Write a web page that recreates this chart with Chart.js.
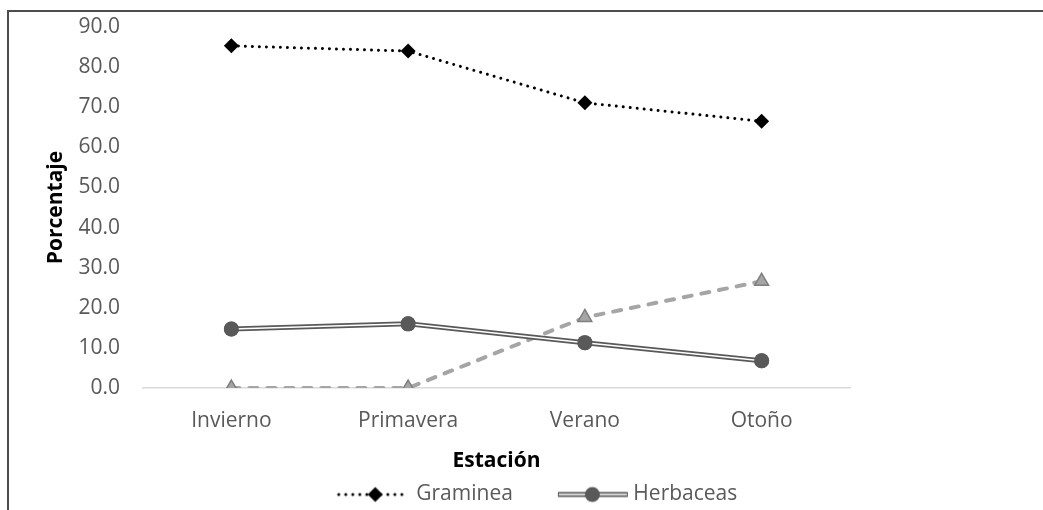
<!DOCTYPE html>
<html>
<head>
<meta charset="utf-8">
<script src="https://cdn.jsdelivr.net/npm/chart.js@4.4.1/dist/chart.umd.min.js"></script>
<style>
  html, body { margin: 0; padding: 0; background: #ffffff; overflow: hidden; }
  #frame { position: absolute; left: 7px; top: 10px; width: 1100px; height: 600px;
           border-top: 2px solid #4d4d4d; border-left: 2px solid #4d4d4d; box-sizing: border-box; }
  #wrap { position: absolute; left: 0; top: 0; width: 1043px; height: 510px; overflow: hidden; }
</style>
</head>
<body>
<div id="frame"></div>
<div id="wrap"><canvas id="c" width="1043" height="519"></canvas></div>
<script>
// Composición por estación (%)
const estaciones = ['Invierno', 'Primavera', 'Verano', 'Otoño'];
const graminea   = [85.3, 84.0, 71.1, 66.5];
const herbaceas  = [14.7, 16.0, 11.3, 6.8];
const arbustivas = [0.0, 0.0, 17.6, 26.6];
const yTickValues = [0, 10, 20, 30, 40, 50, 60, 70, 80, 90];

const FONT = "'Open Sans', 'Liberation Sans', sans-serif";
const TEXT_GRAY = '#595959';

// Small canvases used as legend symbols (line sample + marker)
function symbol(width, height, draw) {
  const c = document.createElement('canvas');
  c.width = width; c.height = height;
  draw(c.getContext('2d'), height / 2);
  return c;
}

const gramineaSymbol = symbol(100, 18, (ctx, cy) => {
  ctx.strokeStyle = '#000'; ctx.lineWidth = 3; ctx.lineCap = 'round';
  ctx.setLineDash([0.01, 7]);
  ctx.beginPath(); ctx.moveTo(33, cy); ctx.lineTo(99, cy); ctx.stroke();
  ctx.setLineDash([]);
  ctx.fillStyle = '#000';
  ctx.beginPath();
  ctx.moveTo(69.5, cy - 7.5); ctx.lineTo(77, cy); ctx.lineTo(69.5, cy + 7.5); ctx.lineTo(62, cy);
  ctx.closePath(); ctx.fill();
});

const herbaceasSymbol = symbol(112, 18, (ctx, cy) => {
  ctx.strokeStyle = '#595959'; ctx.lineWidth = 5;
  ctx.beginPath(); ctx.moveTo(41, cy); ctx.lineTo(111, cy); ctx.stroke();
  ctx.strokeStyle = '#ffffff'; ctx.lineWidth = 1.5;
  ctx.beginPath(); ctx.moveTo(42, cy); ctx.lineTo(110, cy); ctx.stroke();
  ctx.fillStyle = '#595959';
  ctx.beginPath(); ctx.arc(75.5, cy, 7.5, 0, Math.PI * 2); ctx.fill();
});

// Double line: white core stroked over the dark line, then markers redrawn on top
const doubleLinePlugin = {
  id: 'doubleLine',
  afterDatasetDraw(chart, args) {
    const ds = chart.data.datasets[args.index];
    if (!ds.doubleLine) return;
    const pts = args.meta.data;
    const ctx = chart.ctx;
    ctx.save();
    ctx.strokeStyle = '#ffffff';
    ctx.lineWidth = 1.5;
    ctx.beginPath();
    pts.forEach((p, i) => i ? ctx.lineTo(p.x, p.y) : ctx.moveTo(p.x, p.y));
    ctx.stroke();
    ctx.restore();
    pts.forEach(p => p.draw(ctx, chart.chartArea));
  }
};

new Chart(document.getElementById('c'), {
  type: 'line',
  data: {
    labels: estaciones,
    datasets: [
      {
        label: 'Graminea',
        data: graminea,
        borderColor: '#000000',
        borderWidth: 3,
        borderDash: [0.01, 7],
        borderCapStyle: 'round',
        pointStyle: 'rectRot',
        pointRadius: 7.5,
        pointBackgroundColor: '#000000',
        pointBorderColor: '#000000',
        pointBorderWidth: 0
      },
      {
        label: 'Herbaceas',
        data: herbaceas,
        doubleLine: true,
        borderColor: '#595959',
        borderWidth: 5,
        pointStyle: 'circle',
        pointRadius: 7.5,
        pointBackgroundColor: '#595959',
        pointBorderColor: '#595959',
        pointBorderWidth: 0
      },
      {
        label: 'Arbustivas',
        data: arbustivas,
        borderColor: '#a5a5a5',
        borderWidth: 4,
        borderDash: [8, 10],
        borderCapStyle: 'round',
        pointStyle: 'triangle',
        pointRadius: 8,
        pointBackgroundColor: '#a5a5a5',
        pointBorderColor: '#7f7f7f',
        pointBorderWidth: 1.5
      }
    ]
  },
  options: {
    responsive: false,
    animation: false,
    devicePixelRatio: 1,
    layout: { padding: { left: 0, right: 0, top: 27, bottom: 4 } },
    elements: { line: { tension: 0 } },
    plugins: {
      tooltip: { enabled: false },
      legend: {
        position: 'bottom',
        labels: {
          usePointStyle: true,
          pointStyleWidth: 100,
          padding: 10,
          color: TEXT_GRAY,
          font: { family: FONT, size: 21 },
          generateLabels: () => [
            { text: 'Graminea', pointStyle: gramineaSymbol, fontColor: TEXT_GRAY, datasetIndex: 0,
              lineWidth: 0, strokeStyle: 'rgba(0,0,0,0)', fillStyle: 'rgba(0,0,0,0)', hidden: false },
            { text: 'Herbaceas', pointStyle: herbaceasSymbol, fontColor: TEXT_GRAY, datasetIndex: 1,
              lineWidth: 0, strokeStyle: 'rgba(0,0,0,0)', fillStyle: 'rgba(0,0,0,0)', hidden: false }
          ]
        }
      }
    },
    scales: {
      x: {
        offset: true,
        grid: { display: false, drawTicks: false },
        border: { display: true, color: '#d9d9d9', width: 1.5 },
        ticks: { color: TEXT_GRAY, padding: 20, font: { family: FONT, size: 21 } },
        title: { display: true, text: 'Estación', color: '#000000', padding: { top: 0, bottom: 0 },
                 font: { family: FONT, size: 21, weight: 'bold' } },
        afterFit(scale) { scale.height = 86; }
      },
      y: {
        min: 0, max: 90,
        grid: { display: false, drawTicks: false },
        border: { display: false },
        afterBuildTicks(scale) { scale.ticks = yTickValues.map(v => ({ value: v })); },
        ticks: { color: TEXT_GRAY, padding: 23, font: { family: FONT, size: 21 },
                 callback: v => Number(v).toFixed(1) },
        title: { display: true, text: 'Porcentaje', color: '#000000', padding: { top: 43, bottom: 0 },
                 font: { family: FONT, size: 21, weight: 'bold' } },
        afterFit(scale) {
          scale.width = 143;
          scale.paddingTop = 0;
          scale.paddingBottom = 0;
        }
      },
      margen: {
        position: 'right', min: 0, max: 1,
        grid: { display: false, drawTicks: false },
        border: { display: false },
        ticks: { display: false },
        afterFit(scale) { scale.width = 193; }
      }
    }
  },
  plugins: [doubleLinePlugin]
});
</script>
</body>
</html>
